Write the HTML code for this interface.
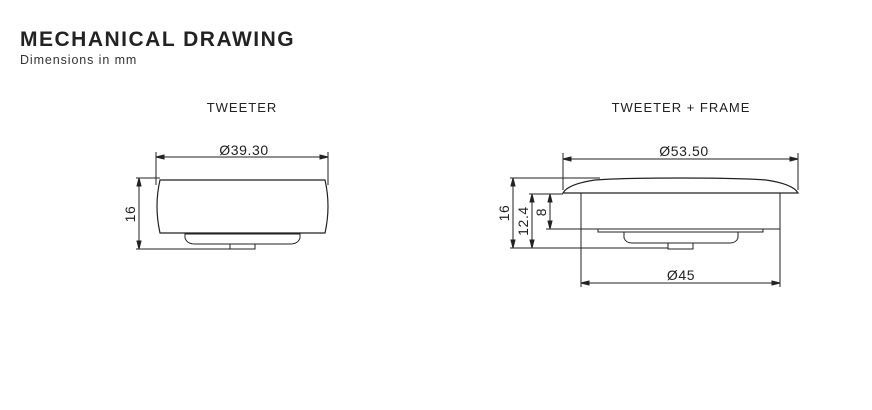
<!DOCTYPE html>
<html><head><style>
body{margin:0;background:#fff;width:872px;height:405px;overflow:hidden;font-family:"Liberation Sans",sans-serif}
</style></head><body>
<svg width="872" height="405" viewBox="0 0 872 405" xmlns="http://www.w3.org/2000/svg" font-family="Liberation Sans, sans-serif">
<text x="20" y="46" font-size="21" font-weight="bold" fill="#222" letter-spacing="1.5">MECHANICAL DRAWING</text>
<text x="20" y="64" font-size="12.5" fill="#333" letter-spacing="0.9">Dimensions in mm</text>
<text x="242" y="112" font-size="13" fill="#222" text-anchor="middle" letter-spacing="1">TWEETER</text>
<text x="681" y="112" font-size="13" fill="#222" text-anchor="middle" letter-spacing="1">TWEETER + FRAME</text>
<g stroke="#222" fill="none" stroke-width="1">
<line x1="156" y1="152" x2="156" y2="185"/><line x1="328" y1="152" x2="328" y2="185"/>
<line x1="156" y1="157" x2="328" y2="157"/>
<path d="M156 157 l8 -2 v4z M328 157 l-8 -2 v4z" fill="#222"/>
<path d="M160 180 H325 Q331 206 325 233 H160 Q154 206 160 180Z" stroke-width="1.2"/>
<path d="M185 234 H300 V238 Q298 244 290 244 H195 Q187 244 185 238Z"/>
<path d="M230 244 V249 H255 V244"/>
<line x1="136" y1="178" x2="160" y2="178"/><line x1="136" y1="249" x2="232" y2="249"/>
<line x1="139" y1="178" x2="139" y2="249"/>
<path d="M139 178 l-2 8 h4z M139 249 l-2 -8 h4z" fill="#222"/>
<line x1="563" y1="153" x2="563" y2="190"/><line x1="798" y1="153" x2="798" y2="190"/>
<line x1="563" y1="159" x2="798" y2="159"/>
<path d="M563 159 l8 -2 v4z M798 159 l-8 -2 v4z" fill="#222"/>
<path d="M563 193 Q568 184 595 180 Q620 178 680 178 Q740 178 766 180 Q793 184 798 193 Z" stroke-width="1.2"/>
<path d="M581 193 V229 H780 V193"/>
<path d="M598 229 V232 H763 V229"/>
<path d="M624 232 V238 Q626 243 632 243 H730 Q736 243 738 238 V232"/>
<path d="M668 243 V249 H693 V243"/>
<line x1="510" y1="178" x2="600" y2="178"/>
<line x1="529" y1="194" x2="563" y2="194"/>
<line x1="546" y1="229" x2="581" y2="229"/>
<line x1="510" y1="248" x2="668" y2="248"/>
<line x1="513" y1="178" x2="513" y2="248"/>
<line x1="532" y1="194" x2="532" y2="248"/>
<line x1="550" y1="194" x2="550" y2="229"/>
<path d="M513 178 l-2 8 h4z M513 248 l-2 -8 h4z M532 194 l-2 8 h4z M532 248 l-2 -8 h4z M550 194 l-2 8 h4z M550 229 l-2 -8 h4z" fill="#222"/>
<line x1="581" y1="229" x2="581" y2="287"/><line x1="780" y1="229" x2="780" y2="287"/>
<line x1="581" y1="283" x2="780" y2="283"/>
<path d="M581 283 l8 -2 v4z M780 283 l-8 -2 v4z" fill="#222"/>
</g>
<g font-size="14" fill="#222" text-anchor="middle" letter-spacing="0.6">
<text x="244" y="155">Ø39.30</text>
<text x="684" y="156">Ø53.50</text>
<text x="681" y="280">Ø45</text>
<text transform="translate(135,214) rotate(-90)">16</text>
<text transform="translate(509,213) rotate(-90)">16</text>
<text transform="translate(528,221) rotate(-90)">12.4</text>
<text transform="translate(546,212) rotate(-90)">8</text>
</g>
</svg>
</body></html>
